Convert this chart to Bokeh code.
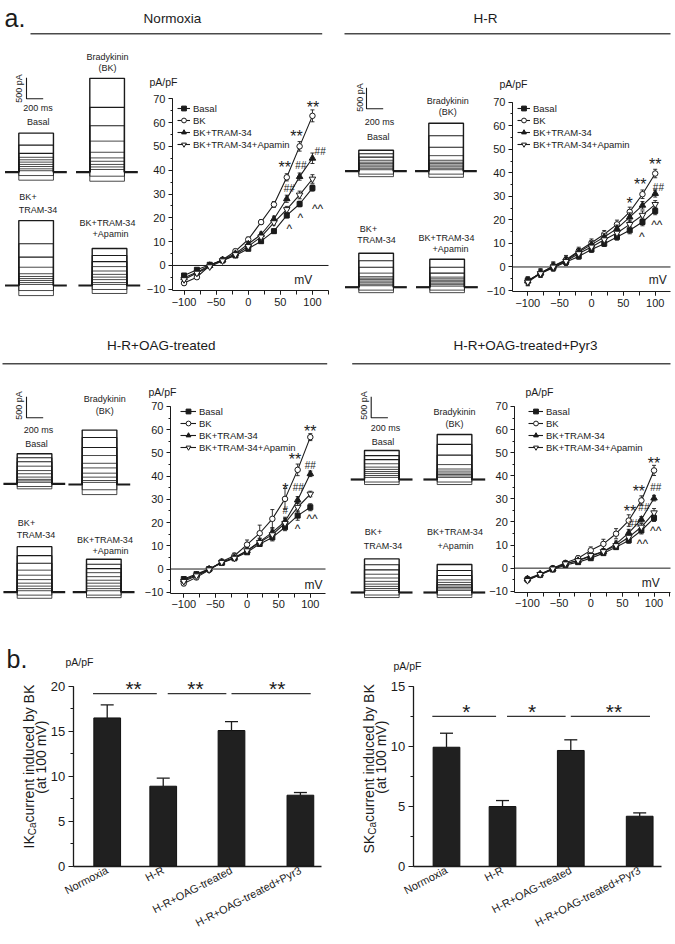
import math
from bokeh.plotting import figure
from bokeh.models import (ColumnDataSource, Legend, LegendItem, LinearAxis,
                          SingleIntervalTicker, FixedTicker, Range1d)
from bokeh.embed import file_html
from bokeh.resources import INLINE
from bokeh.core.properties import value

FONT = "Liberation Sans"
INK = "#1b1b1b"

# ------------------------------------------------------------------ data
mv = [-100, -80, -60, -40, -20, 0, 20, 40, 60, 80, 100]
series_names = ["Basal", "BK", "BK+TRAM-34", "BK+TRAM-34+Apamin"]

# Normoxia (pA/pF)
nx_basal = [-4.2, -1.8, 0.3, 2.1, 4.2, 7.0, 10.2, 14.4, 21.0, 25.8, 32.5]
nx_bk = [-7.4, -4.9, 0.0, 2.4, 6.0, 10.9, 18.2, 25.6, 37.0, 50.0, 62.8]
nx_tram = [-5.2, -2.8, 0.0, 2.4, 5.0, 9.0, 13.0, 19.5, 28.0, 37.3, 45.0]
nx_apa = [-5.9, -3.2, -0.5, 2.0, 4.6, 8.0, 12.0, 18.0, 23.5, 29.6, 36.3]
nx_basal_err = [0.6, 0.6, 0.6, 0.6, 0.6, 0.7, 0.8, 0.9, 1.0, 1.2, 1.3]
nx_bk_err = [0.9, 0.9, 0.8, 0.8, 0.8, 1.0, 1.0, 1.2, 1.5, 2.0, 2.5]
nx_tram_err = [0.8, 0.8, 0.8, 0.7, 0.8, 0.9, 1.0, 1.2, 1.5, 1.5, 2.2]
nx_apa_err = [0.8, 0.8, 0.7, 0.7, 0.8, 0.8, 0.9, 1.0, 1.3, 1.6, 1.8]
nx_marks = [("**", 101, 68), ("**", 75, 55.8), ("**", 57, 43), ("##", 112, 48), ("##", 82, 41.8),
            ("##", 64, 32.5), ("^^", 108, 24.7), ("^", 81, 20.9), ("^", 64, 16)]

# H-R
hr_basal = [-5.7, -2.8, -0.3, 2.1, 4.5, 7.4, 9.9, 12.7, 15.6, 19.1, 23.8]
hr_bk = [-6.0, -2.5, 0.4, 3.1, 6.8, 10.3, 13.9, 18.1, 23.4, 30.9, 39.7]
hr_tram = [-6.0, -2.5, 0.3, 2.8, 6.4, 9.5, 12.7, 16.3, 21.2, 26.2, 31.2]
hr_apa = [-6.4, -2.8, 0.0, 2.4, 5.7, 8.5, 11.6, 14.4, 18.1, 22.0, 26.6]
hr_basal_err = [1.5, 1.5, 1.5, 1.5, 1.2, 1.2, 1.2, 1.3, 1.5, 1.6, 1.6]
hr_bk_err = [1.8, 1.8, 1.8, 1.8, 1.6, 1.6, 1.6, 1.8, 2.0, 1.8, 1.8]
hr_tram_err = [1.5, 1.5, 1.5, 1.5, 1.4, 1.4, 1.4, 1.5, 1.8, 1.6, 1.5]
hr_apa_err = [1.6, 1.6, 1.6, 1.6, 1.5, 1.5, 1.5, 1.6, 1.8, 1.8, 1.6]
hr_marks = [("**", 100, 45.3), ("**", 76.5, 36.8), ("##", 105, 33.7), ("*", 60, 28.6),
            ("^^", 102.6, 18.7), ("^", 79, 13.5)]

# H-R + OAG-treated
oag_basal = [-4.3, -2.2, 0.0, 2.6, 4.6, 7.2, 10.8, 13.6, 18.0, 23.0, 26.6]
oag_bk = [-6.2, -3.6, -0.4, 3.2, 5.7, 10.5, 15.4, 21.6, 30.2, 42.7, 56.8]
oag_tram = [-4.7, -2.6, 0.0, 2.9, 5.0, 7.9, 11.8, 15.8, 20.5, 29.7, 41.0]
oag_apa = [-5.3, -2.9, -0.3, 2.9, 4.7, 7.9, 11.5, 14.8, 19.7, 26.6, 32.3]
oag_basal_err = [0.8, 0.8, 0.8, 0.8, 0.8, 0.9, 1.0, 1.5, 1.5, 2.0, 1.5]
oag_bk_err = [1.0, 1.0, 1.0, 1.0, 1.2, 2.0, 3.5, 4.0, 4.5, 2.5, 1.5]
oag_tram_err = [0.8, 0.8, 0.8, 0.8, 1.0, 1.2, 1.5, 2.0, 1.8, 1.5, 1.2]
oag_apa_err = [0.8, 0.8, 0.8, 0.8, 1.0, 1.2, 1.5, 2.0, 2.0, 2.0, 1.2]
oag_marks = [("**", 100, 61), ("**", 75.7, 48.9), ("##", 100, 44.5), ("*", 60.5, 36),
             ("##", 81, 35.2), ("#", 60.5, 25.1), ("^^", 102.7, 22.3), ("^", 80, 18)]

# H-R + OAG-treated + Pyr3
pyr_basal = [-4.9, -2.9, -0.6, 1.4, 2.6, 4.3, 6.5, 9.1, 12.0, 16.3, 21.7]
pyr_bk = [-4.9, -2.9, 0.0, 2.3, 4.3, 7.7, 10.5, 14.9, 20.6, 29.3, 42.3]
pyr_tram = [-4.6, -2.5, -0.3, 1.9, 3.3, 5.1, 7.2, 10.5, 15.3, 21.1, 30.3]
pyr_apa = [-5.3, -2.7, -0.3, 1.9, 3.3, 5.5, 7.2, 9.8, 13.4, 17.8, 24.0]
pyr_basal_err = [0.8, 0.8, 0.8, 0.8, 0.8, 0.8, 0.9, 1.0, 1.2, 1.5, 1.5]
pyr_bk_err = [1.0, 1.0, 1.0, 1.0, 1.0, 1.5, 2.0, 2.2, 2.5, 2.0, 2.2]
pyr_tram_err = [0.8, 0.8, 0.8, 0.8, 0.8, 0.8, 1.0, 1.2, 1.5, 1.2, 1.2]
pyr_apa_err = [0.8, 0.8, 0.8, 0.8, 0.8, 0.8, 1.0, 1.2, 1.5, 1.5, 1.8]
pyr_marks = [("**", 100, 47), ("**", 76, 34.7), ("##", 102.6, 34.7), ("**", 62, 26.4),
             ("##", 84, 26.4), ("##", 68.4, 19.2), ("^^", 102.6, 17), ("^^", 81.6, 11.3)]

# current-trace families: steady-state current of each voltage step (pA)
nx_tr_basal = [930, 645, 450, 355, 295, 240, 185, 135, 80, 35, -80, -190]
nx_tr_bk = [2235, 1545, 1105, 740, 475, 340, 260, 185, 125, 65, -95, -215]
nx_tr_tram = [1545, 995, 675, 435, 280, 215, 165, 120, 70, 25, -120, -240]
nx_tr_apa = [880, 715, 570, 450, 345, 265, 200, 140, 70, 25, -95, -190]
hr_tr_basal = [500, 415, 335, 260, 215, 180, 145, 105, 70, 35, -70, -130]
hr_tr_bk = [1140, 845, 570, 370, 260, 215, 180, 145, 105, 70, 35, -70, -145]
hr_tr_tram = [810, 630, 475, 335, 250, 215, 180, 145, 105, 70, 35, -70, -130]
hr_tr_apa = [665, 475, 335, 240, 200, 165, 130, 95, 60, 25, -70, -130]
oag_tr_basal = [715, 620, 525, 420, 315, 240, 160, 105, 70, 35, -65, -120]
oag_tr_bk = [1295, 1120, 880, 690, 505, 395, 270, 175, 95, 50, -125, -240]
oag_tr_tram = [1085, 870, 690, 525, 405, 300, 215, 145, 85, 35, -70, -145]
oag_tr_apa = [785, 665, 560, 465, 370, 285, 215, 145, 85, 35, -70, -130]
pyr_tr_basal = [690, 570, 475, 375, 295, 240, 190, 145, 95, 50, -60, -120]
pyr_tr_bk = [1070, 835, 580, 355, 250, 200, 155, 120, 85, 50, -60, -120]
pyr_tr_tram = [800, 660, 540, 435, 345, 265, 200, 145, 95, 50, -60, -120]
pyr_tr_apa = [665, 525, 405, 300, 240, 190, 155, 120, 85, 50, -60, -120]

# panel b
groups = ["Normoxia", "H-R", "H-R+OAG-treated", "H-R+OAG-treated+Pyr3"]
ik_vals = [16.5, 8.9, 15.1, 7.9]
ik_err = [1.45, 0.9, 1.0, 0.3]
ik_stars = ["**", "**", "**"]
sk_vals = [9.93, 4.98, 9.66, 4.17]
sk_err = [1.17, 0.5, 0.89, 0.28]
sk_stars = ["*", "*", "**"]

# ------------------------------------------------------------------ layout constants
bar_pos = [1.0, 1.87, 2.93, 4.0]
BAR_W = 0.415
sig_spans = [(0.78, 1.77), (1.94, 2.85), (2.93, 4.16)]

MS_PER_PX = 200 / 16.7
PA_PER_PX = 500 / 21.0
PULSE_MS, PRE_MS, POST_MS = 415, 165, 160

# page canvas in pixels (the picture's own coordinates)
X0, X1, Y0, Y1 = 0, 673, 0, 942

p = figure(width=X1 - X0, height=Y1 - Y0, x_range=Range1d(X0, X1), y_range=Range1d(-Y1, -Y0),
           output_backend="svg", toolbar_location=None, title=None, min_border=0,
           x_axis_type=None, y_axis_type=None)
p.outline_line_color = None
p.background_fill_color = "white"
p.border_fill_color = "white"


def txt(xs, ys, texts, size, align="center", baseline="middle", angle=0.0):
    p.text(x=xs, y=[-v for v in ys], text=texts, text_font=value(FONT), text_font_size=size,
           text_align=align, text_baseline=baseline, angle=angle, text_color=INK)


def rule(x0, x1, y):
    p.segment(x0=[x0], x1=[x1], y0=[-y], y1=[-y], line_color="#4a4a4a", line_width=1.4)


def sub(name, fx0, fx1, fy0, fy1, xr, yr):
    ux = (xr[1] - xr[0]) / (fx1 - fx0)
    uy = (yr[1] - yr[0]) / (fy1 - fy0)
    p.extra_x_ranges[name] = Range1d(xr[0] - (fx0 - X0) * ux, xr[1] + (X1 - fx1) * ux)
    p.extra_y_ranges[name] = Range1d(yr[0] - (Y1 - fy1) * uy, yr[1] + (fy0 - Y0) * uy)
    return dict(x_range_name=name, y_range_name=name)


def style_axis(ax, size):
    ax.axis_line_color = INK
    ax.major_tick_line_color = INK
    ax.minor_tick_line_color = INK
    ax.major_tick_in = 0
    ax.minor_tick_in = 0
    ax.major_label_text_font = FONT
    ax.major_label_text_font_size = size
    ax.major_label_text_color = INK


# ------------------------------------------------------------------ titles
txt([4], [17], ["a."], "25px", align="left", baseline="alphabetic")
txt([172, 485, 160.8, 525], [18.3, 18.3, 345, 345],
    ["Normoxia", "H-R", "H-R+OAG-treated", "H-R+OAG-treated+Pyr3"], "13.5px")
rule(30, 321.7, 33.3)
rule(344, 670, 33.3)
rule(2, 326.7, 363.3)
rule(351.7, 670, 363.3)

# ------------------------------------------------------------------ current traces
TR = sub("traces", X0, X1, Y0, Y1, (0, (X1 - X0) * MS_PER_PX), (-(Y1 - Y0) * PA_PER_PX, 0))
ms = lambda px: (px - X0) * MS_PER_PX
pa = lambda py: -(py - Y0) * PA_PER_PX


def traces(families, texts, corner, v_lab, h_lab):
    for levels, px, py in families:
        t0, b0 = ms(px), pa(py)
        xs = [[t0, t0, t0 + PULSE_MS, t0 + PULSE_MS] for _ in levels]
        ys = [[b0, b0 + L, b0 + L, b0] for L in levels]
        widths = [1.4 if i == 0 else (1.15 if i < 3 else 0.8) for i in range(len(levels))]
        p.multi_line(xs=xs, ys=ys, line_width=widths, line_color=INK, **TR)
        p.segment(x0=[t0 - PRE_MS, t0 + PULSE_MS], x1=[t0, t0 + PULSE_MS + POST_MS],
                  y0=[b0, b0], y1=[b0, b0], line_color=INK, line_width=2.2, **TR)
    cx, cy = ms(corner[0]), pa(corner[1])
    p.line([cx, cx, cx + 200], [cy + 500, cy, cy], line_color=INK, line_width=1.1, **TR)
    txt([v_lab[0]], [v_lab[1]], ["500 pA"], "9px", angle=math.pi / 2)
    txt([h_lab[0]], [h_lab[1]], ["200 ms"], "9px")
    txt([t[1] for t in texts], [t[2] for t in texts], [t[0] for t in texts], "9px")


traces([(nx_tr_basal, 18.3, 171.7), (nx_tr_bk, 89.3, 171.7),
        (nx_tr_tram, 18.3, 285), (nx_tr_apa, 91.7, 285)],
       [("Bradykinin", 107, 56), ("(BK)", 107, 67), ("Basal", 37.7, 121.7),
        ("BK+", 27.5, 196.7), ("TRAM-34", 37.5, 209.5),
        ("BK+TRAM-34", 107, 222), ("+Apamin", 110, 233)],
       (26, 98.3), (18.5, 88), (37.5, 107.3))
traces([(hr_tr_basal, 358.3, 170.7), (hr_tr_bk, 428.3, 170.7),
        (hr_tr_tram, 358.3, 286.7), (hr_tr_apa, 429.3, 286.7)],
       [("Bradykinin", 447.3, 100), ("(BK)", 447.3, 111.3), ("Basal", 377.7, 136.7),
        ("BK+", 368, 228.3), ("TRAM-34", 376, 239),
        ("BK+TRAM-34", 446, 237.3), ("+Apamin", 450, 248.3)],
       (366, 108.3), (359, 97), (379, 121.7))
traces([(oag_tr_basal, 16.7, 483.3), (oag_tr_bk, 81.7, 484),
        (oag_tr_tram, 16.7, 591.7), (oag_tr_apa, 86, 591.7)],
       [("Bradykinin", 104.3, 398.3), ("(BK)", 104.3, 410), ("Basal", 36, 443.3),
        ("BK+", 26, 522.7), ("TRAM-34", 35.5, 534),
        ("BK+TRAM-34", 104.5, 539.3), ("+Apamin", 110, 550)],
       (26, 417.3), (18.3, 405), (38, 429.3))
traces([(pyr_tr_basal, 364, 479), (pyr_tr_bk, 436.7, 479),
        (pyr_tr_tram, 364, 592), (pyr_tr_apa, 436.7, 592)],
       [("Bradykinin", 454, 411.7), ("(BK)", 454, 423.3), ("Basal", 382.5, 441.7),
        ("BK+", 373, 531.7), ("TRAM-34", 382.5, 545),
        ("BK+TRAM-34", 454.5, 531.7), ("+Apamin", 455, 545)],
       (370.7, 417.3), (363.3, 405), (385, 427.3))

# ------------------------------------------------------------------ I-V plots
STYLES = [("square", INK, 5), ("circle", "white", 5.5),
          ("triangle", INK, 6.5), ("inverted_triangle", "white", 6.5)]
MARK_SIZE = {"*": "16px", "#": "10px", "^": "12px"}
MARK_OFF = {"*": 4, "#": 0, "^": 2}


def iv_plot(name, frame, xr, series, errs, marks, mv_xy, pa_xy, leg):
    yr = (-10.5, 70.5)
    r = sub(name, *frame, xr, yr)
    p.segment(x0=[xr[0]], x1=[xr[1]], y0=[0], y1=[0], line_color=INK, line_width=1, **r)
    xa = LinearAxis(fixed_location=-10.5, bounds=xr,
                    ticker=SingleIntervalTicker(interval=50, num_minor_ticks=2), **r)
    style_axis(xa, "11px")
    xa.major_tick_out = 4
    xa.minor_tick_out = 4
    xa.major_label_standoff = 3
    p.add_layout(xa, "below")
    ya = LinearAxis(fixed_location=xr[0], bounds=(-10.5, 70),
                    ticker=SingleIntervalTicker(interval=10, num_minor_ticks=2), **r)
    style_axis(ya, "11px")
    ya.major_tick_out = 4
    ya.minor_tick_out = 2
    ya.major_label_standoff = 3
    p.add_layout(ya, "left")

    items = []
    for nm, vals, err, (mk, fill, size) in zip(series_names, series, errs, STYLES):
        src = ColumnDataSource(dict(x=mv, y=vals, lo=[v - e for v, e in zip(vals, err)],
                                    hi=[v + e for v, e in zip(vals, err)]))
        lr = p.line("x", "y", source=src, line_color=INK, line_width=1.1, **r)
        p.segment(x0="x", x1="x", y0="lo", y1="hi", source=src, line_color=INK,
                  line_width=0.9, **r)
        p.scatter("x", "hi", source=src, marker="dash", size=4, line_color=INK,
                  line_width=0.9, **r)
        p.scatter("x", "lo", source=src, marker="dash", size=4, line_color=INK,
                  line_width=0.9, **r)
        sr = p.scatter("x", "y", source=src, marker=mk, size=size, fill_color=fill,
                       line_color=INK, line_width=1, **r)
        items.append(LegendItem(label=nm, renderers=[lr, sr]))
    legend = Legend(items=items, location=(int(round(leg[0] - X0)), int(round(Y1 - (leg[1] + 48)))),
                    glyph_width=leg[2], glyph_height=12, label_height=12, spacing=0,
                    padding=0, margin=0, label_standoff=3, border_line_color=None,
                    background_fill_alpha=0, label_text_font=FONT,
                    label_text_font_size="9.5px", label_text_color=INK)
    p.add_layout(legend)

    msrc = ColumnDataSource(dict(x=[m[1] for m in marks], y=[m[2] for m in marks],
                                 t=[m[0] for m in marks],
                                 s=[MARK_SIZE[m[0][0]] for m in marks],
                                 o=[MARK_OFF[m[0][0]] for m in marks]))
    p.text(x="x", y="y", text="t", source=msrc, text_font=value(FONT), text_font_size="s",
           y_offset="o", text_align="center", text_baseline="middle", text_color=INK, **r)
    p.text(x=[mv_xy[0]], y=[mv_xy[1]], text=["mV"], text_font=value(FONT),
           text_font_size="12px", text_align="center", text_baseline="middle",
           text_color=INK, **r)
    txt([pa_xy[0]], [pa_xy[1]], ["pA/pF"], "10.5px", align="left")


iv_plot("nx", (172, 328, 97, 290), (-118, 125),
        [nx_basal, nx_bk, nx_tram, nx_apa],
        [nx_basal_err, nx_bk_err, nx_tram_err, nx_apa_err],
        nx_marks, (85.5, -6), (149, 81.7), (177, 102, 13))
iv_plot("hr", (512, 670, 100.5, 291.2), (-124, 124),
        [hr_basal, hr_bk, hr_tram, hr_apa],
        [hr_basal_err, hr_bk_err, hr_tram_err, hr_apa_err],
        hr_marks, (104, -5.5), (499, 83.3), (517, 102, 13))
iv_plot("oag", (170, 325, 404.8, 592.9), (-121, 124),
        [oag_basal, oag_bk, oag_tram, oag_apa],
        [oag_basal_err, oag_bk_err, oag_tram_err, oag_apa_err],
        oag_marks, (105, -6.7), (148, 391.7), (180, 405, 16))
iv_plot("pyr", (514.3, 670, 404.8, 591.9), (-120, 126),
        [pyr_basal, pyr_bk, pyr_tram, pyr_apa],
        [pyr_basal_err, pyr_bk_err, pyr_tram_err, pyr_apa_err],
        pyr_marks, (94.7, -6.4), (525, 391.7), (528, 405, 15))


# ------------------------------------------------------------------ bar charts
def bar_plot(name, frame, xr, ymax, vals, errs, stars, sig_level, star_x,
             pre, pre_w, ylab_x, ylab_y0, pa_x, pa_y):
    r = sub(name, *frame, xr, (0, ymax))
    p.vbar(x=bar_pos, top=vals, bottom=0, width=BAR_W, fill_color="#202020",
           line_color="#111111", **r)
    hi = [v + e for v, e in zip(vals, errs)]
    p.segment(x0=bar_pos, x1=bar_pos, y0=vals, y1=hi, line_color=INK, line_width=1.3, **r)
    p.scatter(x=bar_pos, y=hi, marker="dash", size=13, line_color=INK, line_width=1.3, **r)
    p.segment(x0=[a for a, b in sig_spans], x1=[b for a, b in sig_spans],
              y0=[sig_level] * 3, y1=[sig_level] * 3, line_color="#333333", line_width=1.3, **r)
    p.text(x=star_x, y=[sig_level] * 3, text=stars, text_font=value(FONT), text_font_size="21px",
           text_align="center", text_baseline="alphabetic", y_offset=-5, text_color=INK, **r)

    ya = LinearAxis(fixed_location=xr[0], bounds=(0, ymax),
                    ticker=SingleIntervalTicker(interval=5, num_minor_ticks=2), **r)
    style_axis(ya, "13px")
    ya.axis_line_width = 1.3
    ya.major_tick_line_width = 1.2
    ya.minor_tick_line_width = 1.2
    ya.major_tick_out = 5
    ya.minor_tick_out = 3
    ya.major_label_standoff = 3
    p.add_layout(ya, "left")
    xa = LinearAxis(fixed_location=0, bounds=xr, ticker=FixedTicker(ticks=bar_pos), **r)
    style_axis(xa, "11px")
    xa.axis_line_width = 1.3
    xa.major_tick_out = 0
    xa.major_label_overrides = {k: g for k, g in zip(bar_pos, groups)}
    xa.major_label_orientation = 0.48
    xa.major_label_standoff = 3
    p.add_layout(xa, "below")

    txt([ylab_x], [ylab_y0], [pre], "14px", align="left", angle=math.pi / 2)
    txt([ylab_x + 3.3], [ylab_y0 - pre_w], ["Ca"], "10px", align="left", angle=math.pi / 2)
    txt([ylab_x], [ylab_y0 - pre_w - 12.8], [" current induced by BK"], "14px",
        align="left", angle=math.pi / 2)
    txt([ylab_x + 12], [756.7], ["(at 100 mV)"], "14px", angle=math.pi / 2)
    txt([pa_x], [pa_y], ["pA/pF"], "10.5px", align="left")


bar_plot("ik", (72.7, 320.7, 686, 865.7), (0.472, 4.323), 20, ik_vals, ik_err, ik_stars, 19.2,
         [1.41, 2.37, 3.64], "IK", 13.2, 28.3, 848, 65, 661.7)
bar_plot("sk", (412.7, 660.7, 686, 865.7), (0.483, 4.334), 15, sk_vals, sk_err, sk_stars, 12.5,
         [1.31, 2.33, 3.60], "SK", 18.7, 368.3, 853, 393, 665)
txt([6], [658.3], ["b."], "25px", align="left", baseline="alphabetic")

open("out.html", "w").write(file_html(p, INLINE, title="IKCa / SKCa currents"))
